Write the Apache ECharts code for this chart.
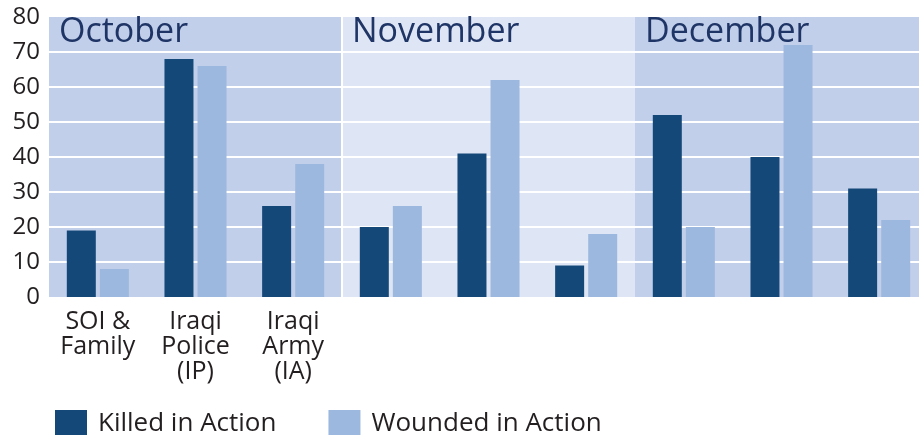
<!DOCTYPE html>
<html>
<head>
<meta charset="UTF-8"/>
<script src="https://cdn.jsdelivr.net/npm/echarts@6/dist/echarts.min.js"></script>
<style>
  html, body { margin: 0; padding: 0; background: #fff; }
  #main { width: 919px; height: 435px; }
</style>
</head>
<body>
<div id="main"></div>
<script type="text/javascript">
// data
var months = ['October', 'November', 'December'];
var groups = ['SOI &\nFamily', 'Iraqi\nPolice\n(IP)', 'Iraqi\nArmy\n(IA)'];
var killed = [19, 68, 26, 20, 41, 9, 52, 40, 31];
var wounded = [8, 66, 38, 26, 62, 18, 20, 72, 22];
var yMin = 0, yMax = 80, yStep = 10;

// one category per month/group pair
var categories = [];
months.forEach(function (m) {
    groups.forEach(function (g) { categories.push(m + ' ' + g); });
});

var dark = '#144879';
var light = '#9db8df';
var font = 'Open Sans';

var myChart = echarts.init(document.getElementById('main'));
var option = {
    animation: false,
    textStyle: {fontFamily: font},
    grid: {left: 49, right: -9, top: 17, bottom: 138, outerBoundsMode: 'none'},
    legend: {
        left: 50,
        top: 405,
        itemWidth: 32,
        itemHeight: 28,
        itemGap: 52,
        icon: 'rect',
        textStyle: {fontSize: 26, color: '#231f20', fontFamily: font, padding: [0, 0, 0, 6]},
        data: ['Killed in Action', 'Wounded in Action']
    },
    xAxis: [{
        type: 'category',
        data: categories,
        axisLine: {show: false},
        axisTick: {show: false},
        axisLabel: {
            interval: 0,
            margin: 12,
            fontSize: 25,
            lineHeight: 25,
            color: '#231f20',
            formatter: function (v, i) { return i < groups.length ? groups[i] : ''; }
        }
    }, {
        // month bands behind the bars
        type: 'value',
        position: 'top',
        min: 0,
        max: months.length,
        interval: 1,
        z: -1,
        axisLine: {show: false},
        axisTick: {show: false},
        axisLabel: {
            inside: true,
            align: 'left',
            verticalAlign: 'top',
            margin: -2,
            fontSize: 34,
            lineHeight: 34,
            color: '#1f3566',
            padding: [0, 0, 0, 10],
            formatter: function (v) { return months[v] || ''; }
        },
        splitArea: {show: true, areaStyle: {color: ['#c2cfea', '#dee5f4']}},
        splitLine: {
            show: true,
            showMinLine: false,
            showMaxLine: false,
            lineStyle: {color: ['#ffffff', 'rgba(0,0,0,0)'], width: 2}
        }
    }],
    yAxis: {
        type: 'value',
        min: yMin,
        max: yMax,
        interval: yStep,
        axisLine: {show: false},
        axisTick: {show: false},
        axisLabel: {fontSize: 24, color: '#231f20', margin: 9},
        splitLine: {
            show: true,
            showMinLine: false,
            showMaxLine: false,
            lineStyle: {color: '#ffffff', width: 2}
        }
    },
    series: [{
        name: 'Killed in Action',
        type: 'bar',
        data: killed,
        barWidth: 29,
        barGap: '14%',
        itemStyle: {color: dark}
    }, {
        name: 'Wounded in Action',
        type: 'bar',
        data: wounded,
        barWidth: 29,
        barGap: '14%',
        itemStyle: {color: light}
    }]
};
myChart.setOption(option);
</script>
</body>
</html>
